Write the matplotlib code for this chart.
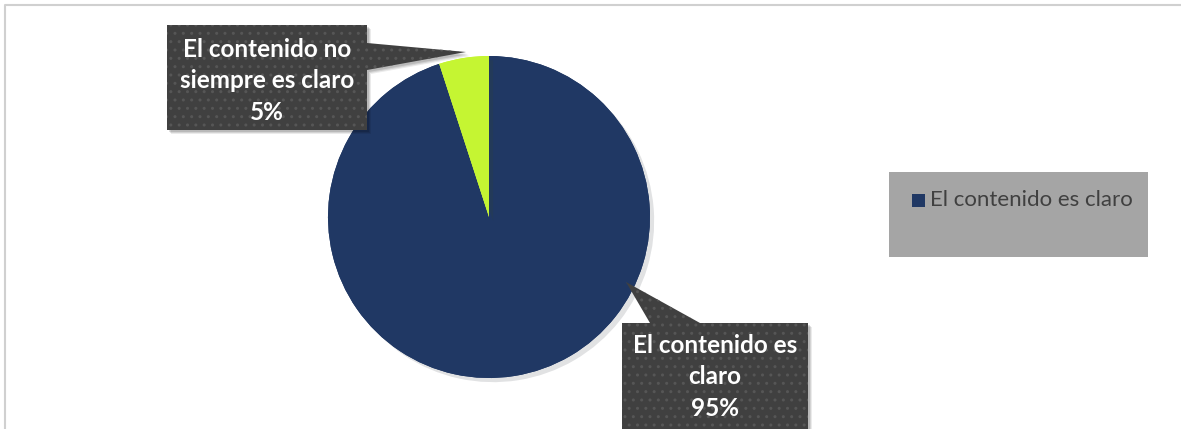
import textwrap

import matplotlib
import matplotlib.pyplot as plt
import matplotlib.patheffects as pe
from matplotlib.patches import Polygon, Rectangle

matplotlib.use("Agg")

# Survey answers
categories = ["El contenido es claro", "El contenido no siempre es claro"]
shares = [95, 5]
colors = ["#203864", "#C5F532"]

W, H = 1181, 429
fig = plt.figure(figsize=(W / 100, H / 100), dpi=100)
ax = fig.add_axes([0, 0, 1, 1])


def flip(pts, dx=0, dy=0):
    # pixel coords measured from the top -> axes coords
    return [(x + dx, H - y - dy) for x, y in pts]


wedges, _ = ax.pie(
    shares,
    colors=colors,
    startangle=90,
    counterclock=False,
    center=(489, H - 217),
    radius=161,
    wedgeprops=dict(linewidth=0),
)
for w in wedges:
    w.set_path_effects([pe.withSimplePatchShadow(offset=(3, -3), alpha=0.12), pe.Normal()])

ax.set_xlim(0, W)
ax.set_ylim(0, H)
ax.set_aspect("auto")
ax.axis("off")

# outer chart frame
ax.plot([5, 5, W], [0, H - 5, H - 5], color="#d0d0d0", lw=1.5)

# callout boxes for the data labels
callouts = [
    [(622, 323), (650, 323), (626, 282), (700, 323), (808, 323), (808, 445), (622, 445)],
    [(167, 25), (367, 25), (367, 43), (466, 52), (367, 70), (367, 130), (167, 130)],
]
label_xy = [(715, 377), (267, 81)]

for pts, (lx, ly), name, val in zip(callouts, label_xy, categories, shares):
    # soft drop shadow
    for k, a in ((4, 0.08), (3, 0.1), (2, 0.12)):
        ax.add_patch(Polygon(flip(pts, k, k), closed=True, facecolor="black",
                             alpha=a, lw=0, zorder=2))
    ax.add_patch(Polygon(flip(pts), closed=True, facecolor="#404040", edgecolor="#565656",
                         hatch="..", lw=0, zorder=3))
    txt = "\n".join(textwrap.wrap(name, 16)) + f"\n{val}%"
    ax.text(lx, H - ly, txt, ha="center", va="center", color="white",
            fontsize=17.5, fontweight="bold", family="Lato", linespacing=1.45, zorder=4)

# legend box (only the first series is listed)
ax.add_patch(Rectangle((889, H - 257), 259, 85, facecolor="#a5a5a5", lw=0))
ax.add_patch(Rectangle((912, H - 207), 13, 13, facecolor=colors[0], lw=0))
ax.text(930, H - 200, categories[0], ha="left", va="center", color="#404040",
        fontsize=16, family="Lato")

fig.savefig("out.png", dpi=100)
